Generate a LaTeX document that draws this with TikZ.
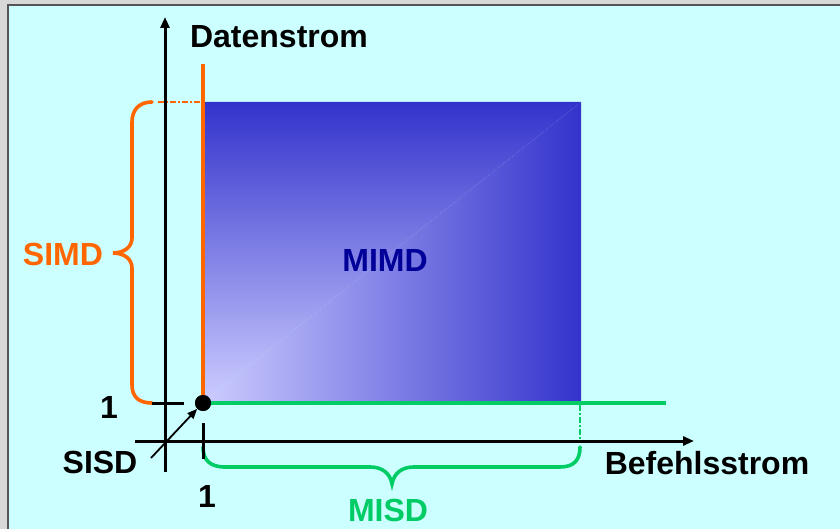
\documentclass[tikz,border=0pt]{standalone}
\usepackage{fontspec}
\setmainfont{Liberation Sans}
\usetikzlibrary{arrows.meta}
\definecolor{bgcyan}{RGB}{204,255,255}
\definecolor{framegray}{RGB}{216,216,216}
\definecolor{framedark}{RGB}{85,85,85}
\definecolor{simdorange}{RGB}{255,102,0}
\definecolor{misdgreen}{RGB}{0,204,102}
\definecolor{mimddark}{RGB}{51,51,204}
\definecolor{mimdlight}{RGB}{204,204,255}
\definecolor{mimdtext}{RGB}{0,0,153}
\begin{document}
\begin{tikzpicture}[x=1pt,y=-1pt,
  lbl/.style={font=\bfseries\fontsize{32}{32}\selectfont, inner sep=0pt},
  axisline/.style={line width=3pt, -{Triangle[length=11pt,width=9pt]}},
  tickline/.style={line width=3pt},
  orangeline/.style={simdorange, line width=3.5pt},
  greenline/.style={misdgreen, line width=3.5pt},
  bracestyle/.style={line width=3.6pt, line cap=round},
  dashdot/.style={line width=2.2pt, dash pattern=on 6pt off 2pt on 2pt off 2pt}]
% background and frame
\useasboundingbox (0,0) rectangle (840,529);
\fill[framegray] (0,0) rectangle (840,529);
\fill[bgcyan] (8,5) rectangle (840,529);
\draw[framedark, line width=2pt] (8,529) -- (8,5) -- (840,5);
% MIMD region with corner gradient
\begin{scope}
  \clip (204,401) -- (204,102) -- (581,102) -- cycle;
  \shade[top color=mimddark, bottom color=mimdlight] (204,102) rectangle (581,401);
\end{scope}
\begin{scope}
  \clip (204,401) -- (581,102) -- (581,401) -- cycle;
  \shade[left color=mimdlight, right color=mimddark] (204,102) rectangle (581,401);
\end{scope}
% key coordinates
\coordinate (ytop) at (165,17);
\coordinate (ybot) at (165,472);
\coordinate (xleft) at (135,441);
\coordinate (xright) at (694,441);
\coordinate (otop) at (203,64);
\coordinate (gend) at (666,403);
\coordinate (ytickL) at (152,403);
\coordinate (ytickR) at (184,403);
\coordinate (xtickT) at (203,423);
\coordinate (xtickB) at (203,459);
\coordinate (sisdstart) at (151,458);
\coordinate (odashL) at (158,102);
\coordinate (odashR) at (203,102);
\coordinate (gdashT) at (580,405);
\coordinate (gdashB) at (580,440);
\node[circle, fill=black, minimum size=16pt, inner sep=0pt] (dot) at (203,403) {};
% orange and green boundary lines
\draw[orangeline] (otop) -- (dot.center);
\draw[greenline] (dot.center) -- (gend);
\draw[simdorange, dashdot] (odashL) -- (odashR);
\draw[misdgreen, dashdot] (gdashT) -- (gdashB);
% braces
\draw[simdorange, bracestyle] (152,102) .. controls (139,102) and (132,110) .. (132,122)
  -- (132,238) .. controls (132,247) and (124,253) .. (113,253)
  .. controls (124,253) and (132,259) .. (132,268)
  -- (132,385) .. controls (132,397) and (139,403) .. (152,403);
\draw[misdgreen, bracestyle] (203,447) .. controls (203,460) and (210,467) .. (225,467)
  -- (370,467) .. controls (382,467) and (390,473) .. (392,484)
  .. controls (394,473) and (402,467) .. (414,467)
  -- (560,467) .. controls (574,467) and (580,460) .. (580,447);
% axes
\draw[axisline] (ybot) -- (ytop);
\draw[axisline] (xleft) -- (xright);
\draw[tickline] (ytickL) -- (ytickR);
\draw[tickline] (xtickT) -- (xtickB);
\node[circle, fill=black, minimum size=16pt, inner sep=0pt] at (dot) {};
\draw[line width=1.8pt, -{Triangle[length=10pt,width=8pt]}] (sisdstart) -- (dot.south west);
% labels
\node[lbl] (daten) at (279,37) {Datenstrom};
\node[lbl] (befehl) at (707,463) {Befehlsstrom};
\node[lbl] (sisd) at (100,462) {SISD};
\node[lbl, text=simdorange] (simd) at (63,254) {SIMD};
\node[lbl, text=mimdtext] (mimd) at (385,260) {MIMD};
\node[lbl, text=misdgreen] (misd) at (388,510) {MISD};
\node[lbl] (one y) at (109,407) {1};
\node[lbl] (one x) at (207,496) {1};
\end{tikzpicture}
\end{document}
